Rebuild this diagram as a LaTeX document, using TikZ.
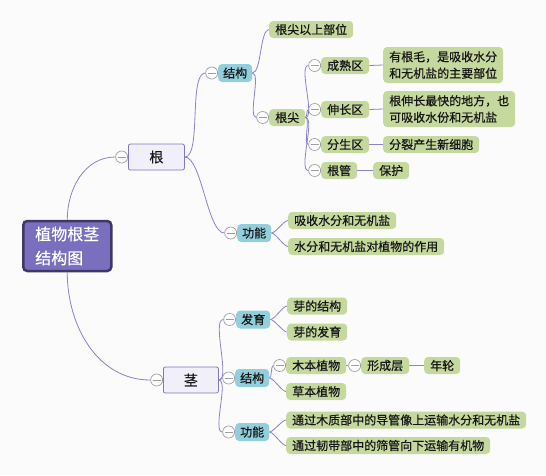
\documentclass[tikz,border=0pt]{standalone}
\usepackage{fontspec}
\setmainfont{Noto Sans CJK SC}[FakeBold=0.5]
\usetikzlibrary{positioning}
\definecolor{bgcol}{HTML}{FBFBFB}
\definecolor{linkcol}{HTML}{8C80CF}
\definecolor{rootcol}{HTML}{7A6FBE}
\definecolor{rootedge}{HTML}{3F3766}
\definecolor{maincol}{HTML}{F1EFFA}
\definecolor{mainedge}{HTML}{8474C6}
\definecolor{subcol}{HTML}{92CEDC}
\definecolor{leafcol}{HTML}{C5D89D}
\definecolor{inkcol}{HTML}{161616}
\begin{document}
\begin{tikzpicture}[x=1pt, y=-1pt,
    rootbox/.style={fill=rootcol, draw=rootedge, line width=2.5pt,
        rounded corners=4pt, minimum width=88pt, minimum height=50pt,
        text=white, align=left, font=\fontsize{16}{24}\selectfont},
    mainbox/.style={fill=maincol, draw=mainedge, line width=0.8pt,
        rounded corners=2pt, minimum width=56pt, minimum height=26pt,
        text=inkcol, font=\fontsize{14}{16}\selectfont},
    subbox/.style={fill=subcol, rounded corners=4pt, inner xsep=5pt,
        inner ysep=0pt, minimum height=18pt, text=inkcol,
        font=\fontsize{12}{14}\selectfont},
    leafbox/.style={fill=leafcol, rounded corners=4pt, inner xsep=6pt,
        inner ysep=0pt, minimum height=17pt, text=inkcol, align=left,
        font=\fontsize{12}{16.5}\selectfont},
    fold/.style={circle, draw=gray!75, fill=white, line width=0.7pt,
        minimum size=12pt, inner sep=0pt,
        path picture={\draw[gray!75, line width=0.7pt]
            ([xshift=-4pt]path picture bounding box.center) -- ++(8pt,0);}},
    link/.style={draw=linkcol, line width=0.8pt},
    curve/.style={out=0, in=180, looseness=0.5}]

    \fill [bgcol] (0, 0) rectangle (546, 475);
    \useasboundingbox (0, 0) rectangle (546, 475);

    % root
    \draw (22, 246) node [rootbox, anchor=west] (root) {植物根茎\\结构图};

    % 根
    \draw (128, 157) node [mainbox, anchor=west] (gen) {根};
    \node [fold, left=0pt of gen] (gen-f) {};

    \draw (218, 73) node [subbox, anchor=west] (jga) {结构};
    \node [fold, left=0pt of jga] (jga-f) {};
    \draw (237, 233) node [subbox, anchor=west] (gna) {功能};
    \node [fold, left=0pt of gna] (gna-f) {};

    \draw (269, 29.5) node [leafbox, anchor=west] (ysbw) {根尖以上部位};
    \draw (269, 117.5) node [leafbox, anchor=west] (gj) {根尖};
    \node [fold, left=0pt of gj] (gj-f) {};

    \draw (321, 65.5) node [leafbox, anchor=west] (csq) {成熟区};
    \node [fold, left=0pt of csq] (csq-f) {};
    \draw (321, 109.5) node [leafbox, anchor=west] (scq) {伸长区};
    \node [fold, left=0pt of scq] (scq-f) {};
    \draw (321, 144.5) node [leafbox, anchor=west] (fsq) {分生区};
    \node [fold, left=0pt of fsq] (fsq-f) {};
    \draw (321, 170.5) node [leafbox, anchor=west] (gg) {根管};
    \node [fold, left=0pt of gg] (gg-f) {};

    \draw (383, 65) node [leafbox, anchor=west, minimum height=36pt] (csq-t)
          {有根毛，是吸收水分\\和无机盐的主要部位};
    \draw (383, 109) node [leafbox, anchor=west, minimum height=36pt] (scq-t)
          {根伸长最快的地方，也\\可吸收水份和无机盐};
    \draw (383, 144.5) node [leafbox, anchor=west] (fsq-t) {分裂产生新细胞};
    \draw (373, 170.5) node [leafbox, anchor=west] (bh) {保护};

    \draw (288, 220.5) node [leafbox, anchor=west] (xs) {吸收水分和无机盐};
    \draw (288, 246.5) node [leafbox, anchor=west] (zy) {水分和无机盐对植物的作用};

    % 茎
    \draw (163, 380) node [mainbox, anchor=west, minimum width=55pt] (jing) {茎};
    \node [fold, left=0pt of jing] (jing-f) {};

    \draw (236, 319.5) node [subbox, anchor=west] (fy) {发育};
    \node [fold, left=0pt of fy] (fy-f) {};
    \draw (235, 378) node [subbox, anchor=west] (jgb) {结构};
    \node [fold, left=0pt of jgb] (jgb-f) {};
    \draw (235, 432) node [subbox, anchor=west] (gnb) {功能};
    \node [fold, left=0pt of gnb] (gnb-f) {};

    \draw (287, 306) node [leafbox, anchor=west] (yjg) {芽的结构};
    \draw (287, 332) node [leafbox, anchor=west] (yfy) {芽的发育};
    \draw (286, 365.5) node [leafbox, anchor=west] (mb) {木本植物};
    \node [fold, left=0pt of mb] (mb-f) {};
    \draw (361, 365.5) node [leafbox, anchor=west] (xcc) {形成层};
    \node [fold, left=0pt of xcc] (xcc-f) {};
    \draw (424, 365.5) node [leafbox, anchor=west] (nl) {年轮};
    \draw (286, 391.5) node [leafbox, anchor=west] (cb) {草本植物};
    \draw (286, 420) node [leafbox, anchor=west] (mz) {通过木质部中的导管像上运输水分和无机盐};
    \draw (286, 445.5) node [leafbox, anchor=west] (rd) {通过韧带部中的筛管向下运输有机物};

    % connectors
    \draw [link] (root.north) to [out=90, in=180] (gen-f.west);
    \draw [link] (root.south) to [out=-90, in=180] (jing-f.west);

    \draw [link] (gen.east) to [curve] (jga-f.west);
    \draw [link] (gen.east) to [curve] (gna-f.west);
    \draw [link] (jga.east) to [curve] (ysbw.west);
    \draw [link] (jga.east) to [curve] (gj-f.west);
    \draw [link] (gj.east) to [curve] (csq-f.west);
    \draw [link] (gj.east) to [curve] (scq-f.west);
    \draw [link] (gj.east) to [curve] (fsq-f.west);
    \draw [link] (gj.east) to [curve] (gg-f.west);
    \draw [link] (csq.east) -- (csq-t.west);
    \draw [link] (scq.east) -- (scq-t.west);
    \draw [link] (fsq.east) -- (fsq-t.west);
    \draw [link] (gg.east) -- (bh.west);
    \draw [link] (gna.east) to [curve] (xs.west);
    \draw [link] (gna.east) to [curve] (zy.west);

    \draw [link] (jing.east) to [curve] (fy-f.west);
    \draw [link] (jing.east) to [curve] (jgb-f.west);
    \draw [link] (jing.east) to [curve] (gnb-f.west);
    \draw [link] (fy.east) to [curve] (yjg.west);
    \draw [link] (fy.east) to [curve] (yfy.west);
    \draw [link] (jgb.east) to [curve] (mb-f.west);
    \draw [link] (jgb.east) to [curve] (cb.west);
    \draw [link] (mb.east) -- (xcc-f.west);
    \draw [link] (xcc.east) -- (nl.west);
    \draw [link] (gnb.east) to [curve] (mz.west);
    \draw [link] (gnb.east) to [curve] (rd.west);
\end{tikzpicture}
\end{document}
